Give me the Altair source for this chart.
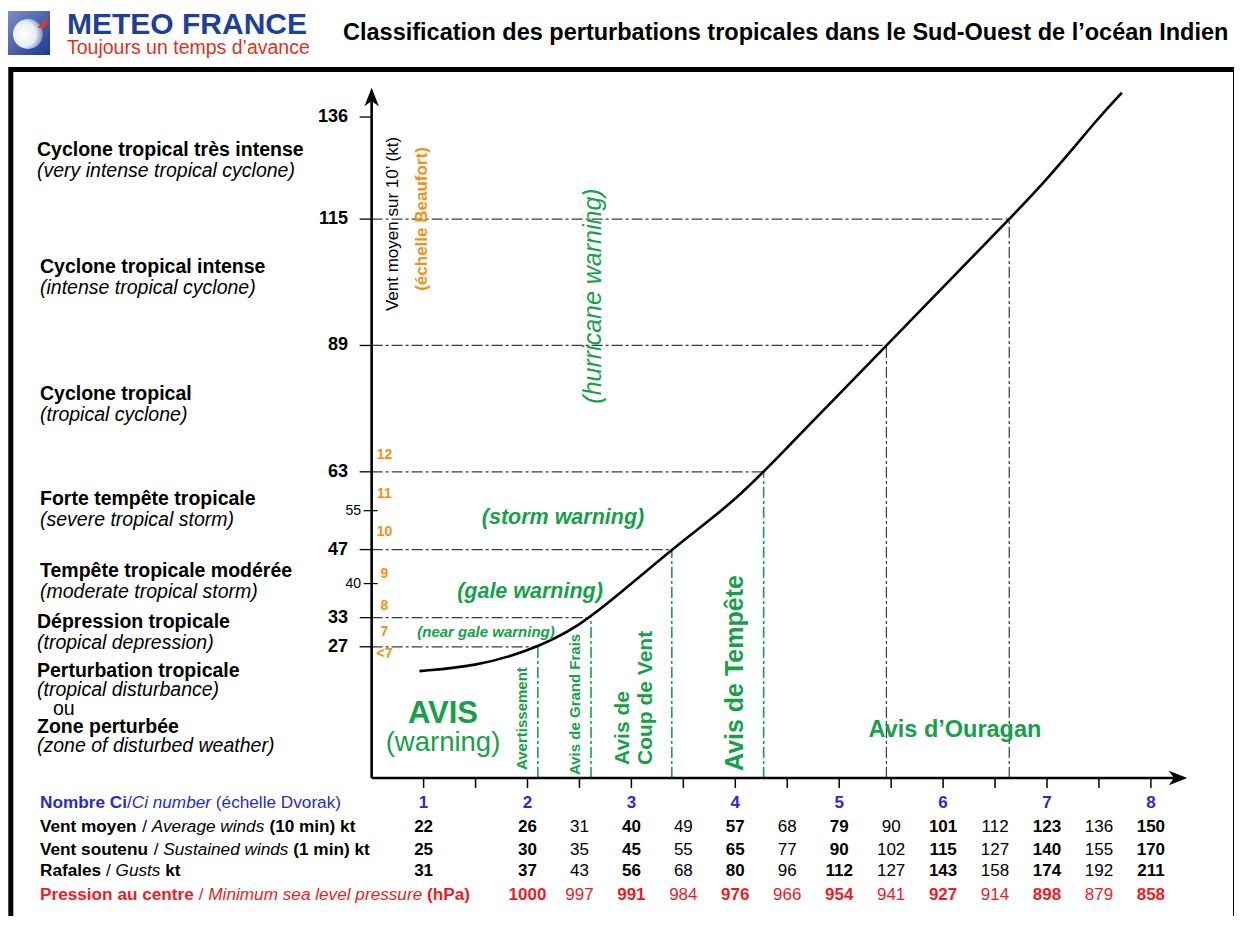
import altair as alt
import numpy as np
import pandas as pd

# ---------------- data ----------------
ci_columns = [1, 2, 2.5, 3, 3.5, 4, 4.5, 5, 5.5, 6, 6.5, 7, 7.5, 8]
avg_winds_10min = [22, 26, 31, 40, 49, 57, 68, 79, 90, 101, 112, 123, 136, 150]
sustained_winds_1min = [25, 30, 35, 45, 55, 65, 77, 90, 102, 115, 127, 140, 155, 170]
gusts_kt = [31, 37, 43, 56, 68, 80, 96, 112, 127, 143, 158, 174, 192, 211]
pressure_ci = [2, 2.5, 3, 3.5, 4, 4.5, 5, 5.5, 6, 6.5, 7, 7.5, 8]
pressure_hpa = [1000, 997, 991, 984, 976, 966, 954, 941, 927, 914, 898, 879, 858]
ci_numbers = [1, 2, 3, 4, 5, 6, 7, 8]
ci_ticks = [1, 1.5, 2, 2.5, 3, 3.5, 4, 4.5, 5, 5.5, 6, 6.5, 7, 7.5, 8]

curve_ci = [0.96, 1.5, 2, 2.5, 3, 3.5, 4, 4.5, 5, 5.5, 6, 6.5, 7, 7.5, 7.72]
curve_kt = [22, 23, 26, 31, 40, 49, 57, 68, 79, 90, 101, 112, 123, 136, 141]

threshold_kt = [27, 33, 47, 63, 89, 115]
threshold_green = [True, True, True, True, False, False]
y_major = [27, 33, 47, 63, 89, 115, 136]
y_minor = [40, 55]

beaufort_labels = ["12", "11", "10", "9", "8", "7", "<7"]
beaufort_kt = [66.5, 58.4, 50.6, 41.9, 35.4, 30.1, 25.5]

category_lines = [
    ["Cyclone tropical très intense", "(very intense tropical cyclone)"],
    ["Cyclone tropical intense", "(intense tropical cyclone)"],
    ["Cyclone tropical", "(tropical cyclone)"],
    ["Forte tempête tropicale", "(severe tropical storm)"],
    ["Tempête tropicale modérée", "(moderate tropical storm)"],
    ["Dépression tropicale", "(tropical depression)"],
    ["Perturbation tropicale", "(tropical disturbance)", "ou",
     "Zone perturbée", "(zone of disturbed weather)"],
]
category_kt = [127, 102.9, 76.9, 55.2, 40.5, 30, 14.2]

table_rows = [
    # (label pieces, values, ci, colour)
    ([("Nombre Ci", "bold"), ("/", "normal"), ("Ci number", "italic"), (" (échelle Dvorak)", "normal")],
     ci_numbers, ci_numbers, "blue"),
    ([("Vent moyen", "bold"), (" / ", "normal"), ("Average winds", "italic"), (" (10 min) kt", "bold")],
     avg_winds_10min, ci_columns, "black"),
    ([("Vent soutenu", "bold"), (" / ", "normal"), ("Sustained winds", "italic"), (" (1 min) kt", "bold")],
     sustained_winds_1min, ci_columns, "black"),
    ([("Rafales", "bold"), (" / ", "normal"), ("Gusts", "italic"), (" kt", "bold")],
     gusts_kt, ci_columns, "black"),
    ([("Pression au centre", "bold"), (" / ", "normal"), ("Minimum sea level pressure", "italic"), (" (hPa)", "bold")],
     pressure_hpa, pressure_ci, "red"),
]

# ---------------- layout ----------------
ORIGIN = 8
W, H = 1226, 908
CI1_PX, PX_PER_CI = 423.6, 103.9
KT0_PY, PX_PER_KT = 778.0, 4.86
AXIS_CI = 0.5

FONT = "Liberation Sans, Arial, Helvetica, sans-serif"
GREEN = "#17a04a"
ORANGE = "#f39019"
BLUE = "#2a2ac8"
RED = "#ec1c24"
GRAY = "#3c3c3c"
COLORS = {"blue": BLUE, "black": "black", "red": RED}


def to_ci(xp):
    return 1 + (np.asarray(xp, dtype=float) - CI1_PX) / PX_PER_CI


def to_kt(yp):
    return (KT0_PY - np.asarray(yp, dtype=float)) / PX_PER_KT


xs = alt.Scale(domain=[float(to_ci(ORIGIN)), float(to_ci(ORIGIN + W))], nice=False, zero=False)
ys = alt.Scale(domain=[float(to_kt(ORIGIN + H)), float(to_kt(ORIGIN))], nice=False, zero=False)


def X(f):
    return alt.X(f, type="quantitative", scale=xs, axis=None)


def Y(f):
    return alt.Y(f, type="quantitative", scale=ys, axis=None)


# Arial-compatible advance widths (em) for laying out mixed-style label pieces
REG = {}
for chars, w in [("ijl’", .222), (" !,./:;If[]t", .278), ("r()-", .333), ("'", .191),
                 ("ckvxyzJs", .5), ("abdeghnopqu0123456789éèêL", .556), ("FTZ", .611),
                 ("ABEKPSVXY", .667), ("CDHNRUw", .722), ("GOQ", .778), ("mM", .833), ("W", .944)]:
    for c in chars:
        REG[c] = w
BOLD = {}
for chars, w in [(" !,./:;ijlI’", .278), ("ft()-", .333), ("r", .389), ("'", .238), ("z", .5),
                 ("acesvkxyJ0123456789éèê", .556), ("bdghnopquFTZL", .611), ("EPSVXY", .667),
                 ("ABCDHKNRU", .722), ("wGOQ", .778), ("M", .833), ("m", .889), ("W", .944)]:
    for c in chars:
        BOLD[c] = w


def text_width(s, size, weight):
    table = BOLD if weight == "bold" else REG
    return sum(table.get(c, .556) for c in s) * size


one = pd.DataFrame({"k": [0]})
layers = []


def text_layer(rows, size, weight="normal", style="normal", align="left", angle=0):
    df = pd.DataFrame(rows)
    df["x"] = to_ci(df["xp"])
    df["y"] = to_kt(df["yp"])
    mk = dict(font=FONT, fontSize=size, fontWeight=weight, align=align, baseline="middle")
    if style != "normal":
        mk["fontStyle"] = style
    if angle:
        mk["angle"] = angle
    return alt.Chart(df).mark_text(**mk).encode(
        x=X("x"), y=Y("y"), text="text:N", color=alt.Color("c:N", scale=None))


# ---- frame ----
layers.append(alt.Chart(one).mark_rect(fill="transparent", stroke="black", strokeWidth=5).encode(
    x=alt.value(10.8 - ORIGIN), x2=alt.value(1235.5 - ORIGIN),
    y=alt.value(69.5 - ORIGIN), y2=alt.value(1000)))

# ---- header ----
layers.append(alt.Chart(one).mark_rect(fill={
    "gradient": "linear", "x1": 0, "y1": 0, "x2": 1, "y2": 1,
    "stops": [{"offset": 0, "color": "#7d8fc8"}, {"offset": 1, "color": "#1c3890"}]}).encode(
    x=alt.value(7 - ORIGIN), x2=alt.value(50 - ORIGIN), y=alt.value(11 - ORIGIN), y2=alt.value(55 - ORIGIN)))
layers.append(alt.Chart(one).mark_point(shape="circle", filled=True, size=900, opacity=1, fill={
    "gradient": "radial", "x1": 0.35, "y1": 0.5, "x2": 0.35, "y2": 0.5, "r1": 0, "r2": 0.75,
    "stops": [{"offset": 0, "color": "#ffffff"}, {"offset": 0.55, "color": "#e8ecf6"},
              {"offset": 1, "color": "#4a60ac"}]}).encode(
    x=alt.value(28 - ORIGIN), y=alt.value(34 - ORIGIN)))
layers.append(alt.Chart(one).mark_point(shape="M-1,1L1,-1L0.3,1Z", filled=True, size=130,
                                        color="#e03a22", opacity=1).encode(
    x=alt.value(43 - ORIGIN), y=alt.value(22 - ORIGIN)))
layers.append(text_layer([{"xp": 67, "yp": 24.5, "text": "METEO FRANCE", "c": "#1e3f9a"}], 30, "bold"))
layers.append(text_layer([{"xp": 67, "yp": 47.5, "text": "Toujours un temps d’avance", "c": "#e0301e"}], 19.5))
layers.append(text_layer([{"xp": 343, "yp": 33, "c": "black",
                           "text": "Classification des perturbations tropicales dans le Sud-Ouest de l’océan Indien"}],
                         23.5, "bold"))

# ---- threshold dash-dot lines ----
cross_ci = np.interp(threshold_kt, curve_kt, curve_ci)
hdf = pd.DataFrame({"x": AXIS_CI, "x2": cross_ci, "y": threshold_kt})
layers.append(alt.Chart(hdf).mark_rule(color=GRAY, strokeWidth=1.2, strokeDash=[11, 3, 3, 3]).encode(
    x=X("x"), x2="x2", y=Y("y")))
vdf = pd.DataFrame({"x": cross_ci, "y": 0.0, "y2": threshold_kt,
                    "c": [GREEN if g else GRAY for g in threshold_green],
                    "w": [1.6 if g else 1.2 for g in threshold_green]})
layers.append(alt.Chart(vdf).mark_rule(strokeDash=[11, 3, 3, 3]).encode(
    x=X("x"), y=Y("y"), y2="y2", color=alt.Color("c:N", scale=None),
    strokeWidth=alt.StrokeWidth("w:Q", scale=None)))

# ---- axes ----
Y_TIP_KT = float(to_kt(88)) - 10 / PX_PER_KT
X_TIP_CI = float(to_ci(1187)) - 10 / PX_PER_CI
adf = pd.DataFrame({"x": [AXIS_CI, AXIS_CI], "x2": [AXIS_CI, X_TIP_CI], "y": [0.0, 0.0], "y2": [Y_TIP_KT, 0.0]})
layers.append(alt.Chart(adf).mark_rule(color="black", strokeWidth=2.6).encode(
    x=X("x"), x2="x2", y=Y("y"), y2="y2"))
layers.append(alt.Chart(pd.DataFrame({"x": [AXIS_CI], "y": [Y_TIP_KT]})).mark_point(
    shape="M0,-1L0.7,0.8L0,0.3L-0.7,0.8Z", filled=True, size=420, color="black", opacity=1).encode(
    x=X("x"), y=Y("y")))
layers.append(alt.Chart(pd.DataFrame({"x": [X_TIP_CI], "y": [0.0]})).mark_point(
    shape="M1,0L-0.8,0.7L-0.3,0L-0.8,-0.7Z", filled=True, size=420, color="black", opacity=1).encode(
    x=X("x"), y=Y("y")))

tdf = pd.DataFrame({"x": [AXIS_CI - 12 / PX_PER_CI] * len(y_major), "x2": AXIS_CI, "y": y_major})
layers.append(alt.Chart(tdf).mark_rule(color="black", strokeWidth=1.3).encode(x=X("x"), x2="x2", y=Y("y")))
mdf = pd.DataFrame({"x": [AXIS_CI - 8 / PX_PER_CI] * len(y_minor), "x2": AXIS_CI + 6 / PX_PER_CI, "y": y_minor})
layers.append(alt.Chart(mdf).mark_rule(color="black", strokeWidth=1.2).encode(x=X("x"), x2="x2", y=Y("y")))
xdf = pd.DataFrame({"x": ci_ticks, "y": 0.0, "y2": -10 / PX_PER_KT})
layers.append(alt.Chart(xdf).mark_rule(color="black", strokeWidth=1.5).encode(x=X("x"), y=Y("y"), y2="y2"))

# ---- curve ----
layers.append(alt.Chart(pd.DataFrame({"x": curve_ci, "y": curve_kt})).mark_line(
    color="black", strokeWidth=2.6, interpolate="basis").encode(x=X("x"), y=Y("y")))

# ---- y labels ----
layers.append(alt.Chart(pd.DataFrame({"y": y_major, "t": [str(v) for v in y_major]})).mark_text(
    font=FONT, fontSize=18, fontWeight="bold", align="right", baseline="middle").encode(
    x=alt.value(348 - ORIGIN), y=Y("y"), text="t:N"))
layers.append(alt.Chart(pd.DataFrame({"y": y_minor, "t": [str(v) for v in y_minor]})).mark_text(
    font=FONT, fontSize=14, align="right", baseline="middle").encode(
    x=alt.value(361 - ORIGIN), y=Y("y"), text="t:N"))
bdf = pd.DataFrame({"y": beaufort_kt, "t": beaufort_labels})
layers.append(alt.Chart(bdf).mark_text(
    font=FONT, fontSize=14, fontWeight="bold", align="center", baseline="middle", color=ORANGE).encode(
    x=alt.value(384.5 - ORIGIN), y=Y("y"), text="t:N"))

# ---- rotated axis titles and warnings ----
layers.append(text_layer([{"xp": 393, "yp": 224, "text": "Vent moyen sur 10’ (kt)", "c": "black"}],
                         17, align="center", angle=270))
layers.append(text_layer([{"xp": 422, "yp": 219, "text": "(échelle Beaufort)", "c": ORANGE}],
                         17, "bold", align="center", angle=270))
layers.append(text_layer([{"xp": 593, "yp": 296, "text": "(hurricane warning)", "c": GREEN}],
                         25, style="italic", align="center", angle=270))
layers.append(text_layer([{"xp": 522, "yp": 770, "text": "Avertissement", "c": GREEN},
                          {"xp": 575, "yp": 775, "text": "Avis de Grand Frais", "c": GREEN}],
                         15, "bold", angle=270))
layers.append(text_layer([{"xp": 623, "yp": 765, "text": "Avis de", "c": GREEN},
                          {"xp": 646, "yp": 765, "text": "Coup de Vent", "c": GREEN}],
                         21, "bold", angle=270))
layers.append(text_layer([{"xp": 735, "yp": 771, "text": "Avis de Tempête", "c": GREEN}],
                         25, "bold", angle=270))
layers.append(text_layer([{"xp": 443, "yp": 714, "text": "AVIS", "c": GREEN}], 31, "bold", align="center"))
layers.append(text_layer([{"xp": 443, "yp": 743, "text": "(warning)", "c": GREEN}], 27.5, align="center"))
layers.append(text_layer([{"xp": 563, "yp": 518, "text": "(storm warning)", "c": GREEN},
                          {"xp": 530, "yp": 592, "text": "(gale warning)", "c": GREEN}],
                         21.5, "bold", "italic", align="center"))
layers.append(text_layer([{"xp": 486, "yp": 632, "text": "(near gale warning)", "c": GREEN}],
                         15, "bold", "italic", align="center"))
layers.append(text_layer([{"xp": 955, "yp": 730, "text": "Avis d’Ouragan", "c": GREEN}],
                         23.5, "bold", align="center"))

# ---- category labels on the left ----
cat_x = [37, 40, 40, 40, 40, 37, 37]
cat_rows = {"bold": [], "italic": [], "normal": []}
for lines, kt, x0 in zip(category_lines, category_kt, cat_x):
    yc = KT0_PY - kt * PX_PER_KT
    if len(lines) == 2:
        offs, styles, xs_ = [-10.5, 10.5], ["bold", "italic"], [x0, x0]
    else:
        offs = [-37.6, -18.6, 0, 18.4, 37.4]
        styles = ["bold", "italic", "normal", "bold", "italic"]
        xs_ = [x0, x0, x0 + 16, x0, x0]
    for t, o, s, xx in zip(lines, offs, styles, xs_):
        cat_rows[s].append({"xp": xx, "yp": yc + o, "text": t, "c": "black"})
layers.append(text_layer(cat_rows["bold"], 19.5, "bold"))
layers.append(text_layer(cat_rows["italic"], 19.5, style="italic"))
layers.append(text_layer(cat_rows["normal"], 19.5))

# ---- table under the x axis ----
row_y = [803, 827.3, 849.7, 871.3, 894.5]
TABLE_SIZE = 17.2
piece_rows = {"bold": [], "italic": [], "normal": []}
num_rows = {"bold": [], "normal": []}
for (pieces, values, cis, colname), yp in zip(table_rows, row_y):
    col = COLORS[colname]
    xcur = 40.0
    for txt, st in pieces:
        weight = "bold" if st == "bold" else "normal"
        lead = len(txt) - len(txt.lstrip(" "))
        core = txt.strip(" ")
        xstart = xcur + text_width(" " * lead, TABLE_SIZE, weight)
        piece_rows[st].append({"xp": xstart, "yp": yp, "text": core, "c": col})
        xcur += text_width(txt, TABLE_SIZE, weight)
    for v, c in zip(values, cis):
        key = "bold" if float(c).is_integer() else "normal"
        num_rows[key].append({"ci": c, "yp": yp, "text": str(v), "c": col})
layers.append(text_layer(piece_rows["bold"], TABLE_SIZE, "bold"))
layers.append(text_layer(piece_rows["italic"], TABLE_SIZE, style="italic"))
layers.append(text_layer(piece_rows["normal"], TABLE_SIZE))
for key in ["bold", "normal"]:
    df = pd.DataFrame(num_rows[key])
    df["y"] = to_kt(df["yp"])
    layers.append(alt.Chart(df).mark_text(
        font=FONT, fontSize=17, fontWeight=key, align="center", baseline="middle").encode(
        x=X("ci"), y=Y("y"), text="text:N", color=alt.Color("c:N", scale=None)))

chart = alt.layer(*layers).properties(
    width=W, height=H, padding=0, background="white",
    autosize=alt.AutoSizeParams(type="none"),
).configure_view(strokeWidth=0)

chart.save("out.html", embed_options={"renderer": "svg", "actions": False})
